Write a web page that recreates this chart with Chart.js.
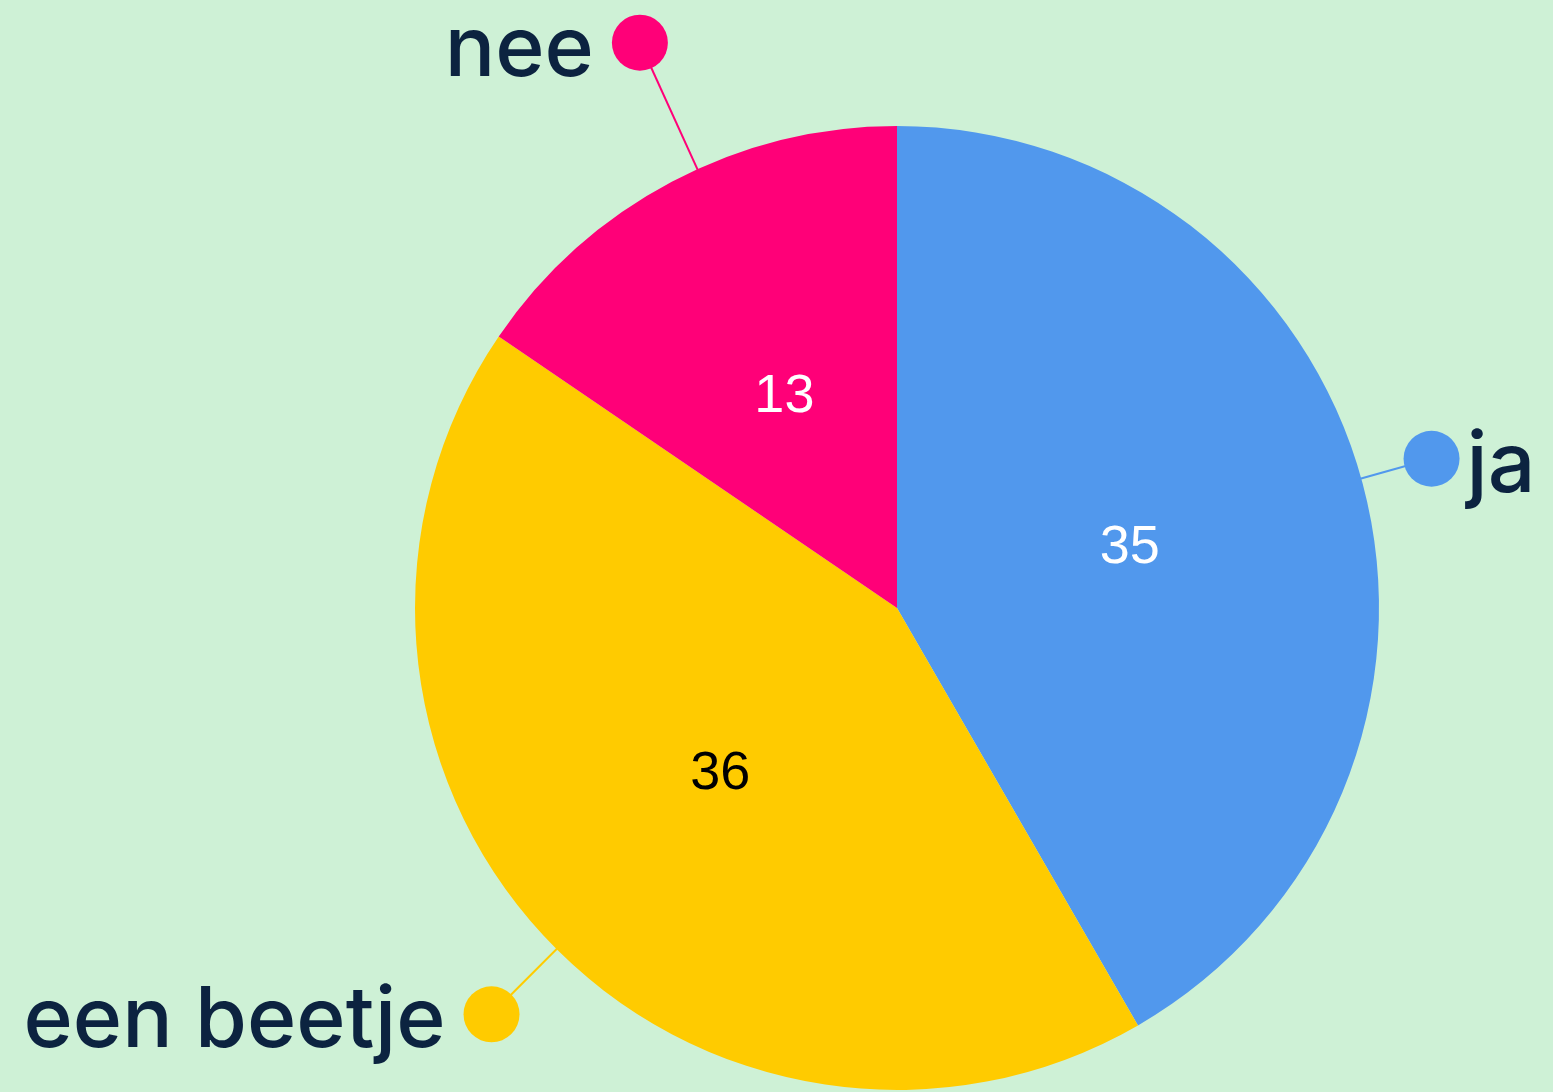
<!DOCTYPE html>
<html>
<head>
<meta charset="utf-8">
<script src="https://cdn.jsdelivr.net/npm/chart.js@4"></script>
<style>
  html, body { margin: 0; padding: 0; background: #cef1d6; overflow: hidden; }
  canvas { display: block; }
</style>
</head>
<body>
<canvas id="pieChart" width="1553" height="1092"></canvas>
<script>
// Data
const labels = ['ja', 'een beetje', 'nee'];
const values = [35, 36, 13];
const sliceColors = ['#5198ed', '#ffcb00', '#ff0078'];
const valueColors = ['#ffffff', '#000000', '#ffffff'];

// Where the outer labels sit (distance of the dot from centre, small angle nudge in degrees)
const dotDistance = [555, 574, 621];
const angleNudge = [-0.6, -2.2, 3.4];

const outerLabels = {
    id: 'outerLabels',
    afterDraw(chart) {
        const ctx = chart.ctx;
        const meta = chart.getDatasetMeta(0);
        meta.data.forEach((arc, i) => {
            const p = arc.getProps(['x', 'y', 'startAngle', 'endAngle', 'outerRadius']);
            const mid = (p.startAngle + p.endAngle) / 2;

            // value inside the slice
            const ir = p.outerRadius * 0.5;
            ctx.save();
            ctx.font = '54px "Liberation Sans", Arial, sans-serif';
            ctx.fillStyle = valueColors[i];
            ctx.textAlign = 'center';
            ctx.textBaseline = 'middle';
            ctx.fillText(String(values[i]), p.x + ir * Math.cos(mid), p.y + ir * Math.sin(mid) + 2);
            ctx.restore();

            // leader line + dot
            const a = mid + angleNudge[i] * Math.PI / 180;
            const dx = p.x + dotDistance[i] * Math.cos(a);
            const dy = p.y + dotDistance[i] * Math.sin(a);
            ctx.save();
            ctx.strokeStyle = sliceColors[i];
            ctx.lineWidth = 2;
            ctx.beginPath();
            ctx.moveTo(p.x + (p.outerRadius - 2) * Math.cos(a), p.y + (p.outerRadius - 2) * Math.sin(a));
            ctx.lineTo(dx, dy);
            ctx.stroke();
            ctx.fillStyle = sliceColors[i];
            ctx.beginPath();
            ctx.arc(dx, dy, 28, 0, Math.PI * 2);
            ctx.fill();

            // category text next to the dot
            ctx.font = '500 84px Inter, "Noto Sans", sans-serif';
            ctx.fillStyle = '#0c2340';
            ctx.textBaseline = 'alphabetic';
            if (Math.cos(a) < 0) {
                ctx.textAlign = 'right';
                ctx.fillText(labels[i], dx - 46, dy + 33);
            } else {
                ctx.textAlign = 'left';
                ctx.fillText(labels[i], dx + 35, dy + 33);
            }
            ctx.restore();
        });
    }
};

const pieCtx = document.getElementById('pieChart').getContext('2d');
const pieChart = new Chart(pieCtx, {
    type: 'pie',
    data: {
        labels: labels,
        datasets: [{
            data: values,
            backgroundColor: sliceColors,
            borderWidth: 0
        }]
    },
    options: {
        responsive: false,
        animation: false,
        devicePixelRatio: 1,
        layout: {
            padding: { top: 126, bottom: 2, left: 415, right: 174 }
        },
        plugins: {
            legend: { display: false },
            tooltip: { enabled: false }
        }
    },
    plugins: [outerLabels]
});
</script>
</body>
</html>
